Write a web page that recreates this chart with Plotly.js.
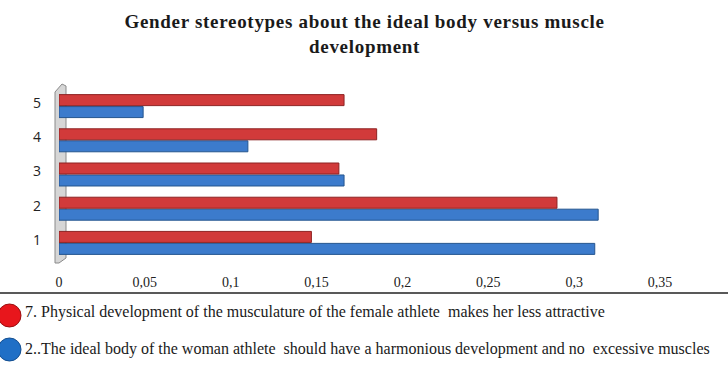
<!DOCTYPE html>
<html>
<head>
<meta charset="utf-8">
<script src="https://cdn.plot.ly/plotly-3.0.1.min.js"></script>
<style>
html,body{margin:0;padding:0;background:#fff;}
#chart{width:728px;height:376px;}
g.annotation[data-index="0"] text{letter-spacing:0.7px;}
</style>
</head>
<body>
<div id="chart"></div>
<script>
const categories = ["1", "2", "3", "4", "5"];
const seriesRedName = "7. Physical development of the musculature of the female athlete  makes her less attractive";
const seriesBlueName = "2..The ideal body of the woman athlete  should have a harmonious development and no  excessive muscles";
const redValues = [0.147, 0.290, 0.163, 0.185, 0.166];
const blueValues = [0.312, 0.314, 0.166, 0.110, 0.049];
const xTickVals = [0, 0.05, 0.1, 0.15, 0.2, 0.25, 0.3, 0.35];
const xTickText = ["0", "0,05", "0,1", "0,15", "0,2", "0,25", "0,3", "0,35"];
const chartTitle = "Gender stereotypes about the ideal body versus muscle<br>development";

const W = 728, H = 376;
const M = {l: 59, r: 68, t: 89, b: 116};
const pw = W - M.l - M.r, ph = H - M.t - M.b;
const px = x => (x - M.l) / pw;
const py = y => (H - M.b - y) / ph;

const serif = "Liberation Serif, Times New Roman, serif";

const traces = [
  {
    type: "bar", orientation: "h", name: seriesBlueName,
    y: categories, x: blueValues,
    marker: {color: "#3c7bcc", line: {color: "#24558f", width: 1}},
    showlegend: false, hoverinfo: "x+y"
  },
  {
    type: "bar", orientation: "h", name: seriesRedName,
    y: categories, x: redValues,
    marker: {color: "#d13a3a", line: {color: "#8e2323", width: 1}},
    showlegend: false, hoverinfo: "x+y"
  }
];

const layout = {
  width: W, height: H,
  margin: M,
  paper_bgcolor: "#fff", plot_bgcolor: "#fff",
  barmode: "group", bargap: 0.3, bargroupgap: 0.08,
  showlegend: false,
  xaxis: {
    range: [0, 0.35], tickvals: xTickVals, ticktext: xTickText,
    showgrid: false, zeroline: false, showline: false, ticks: "",
    ticklabelstandoff: 12,
    tickfont: {family: serif, size: 14, color: "#222"}
  },
  yaxis: {
    type: "category", range: [-0.5, 4.5],
    showgrid: false, zeroline: false, showline: false, ticks: "",
    ticklabelstandoff: 17, ticklabelshift: -3,
    tickfont: {family: "Open Sans, sans-serif", size: 14, color: "#222"}
  },
  shapes: [
    {type: "path", xref: "paper", yref: "paper",
     path: `M ${px(55)} ${py(263)} L ${px(55)} ${py(92)} L ${px(62)} ${py(84)} L ${px(66)} ${py(86)} L ${px(66)} ${py(258)} L ${px(59)} ${py(263)} Z`,
     fillcolor: "#d6d6d6", line: {color: "#8a8a8a", width: 1}, layer: "below"},
    {type: "line", xref: "paper", yref: "paper",
     x0: px(0), x1: px(728), y0: py(293), y1: py(293),
     line: {color: "#222", width: 1.5}},
    {type: "circle", xref: "paper", yref: "paper",
     x0: px(-2), x1: px(21), y0: py(327), y1: py(304),
     fillcolor: "#e8161c", line: {color: "#9a1010", width: 1}},
    {type: "circle", xref: "paper", yref: "paper",
     x0: px(-2), x1: px(21), y0: py(361), y1: py(338),
     fillcolor: "#1f6fc6", line: {color: "#154f90", width: 1}}
  ],
  annotations: [
    {xref: "paper", yref: "paper", x: px(364), y: py(9), xanchor: "center", yanchor: "top",
     text: "<b>" + chartTitle + "</b>", showarrow: false,
     font: {family: serif, size: 19, color: "#1a1a1a"}},
    {xref: "paper", yref: "paper", x: px(23), y: py(312), xanchor: "left", yanchor: "middle",
     text: seriesRedName, showarrow: false,
     font: {family: serif, size: 16, color: "#1a1a1a"}},
    {xref: "paper", yref: "paper", x: px(23), y: py(349), xanchor: "left", yanchor: "middle",
     text: seriesBlueName, showarrow: false,
     font: {family: serif, size: 16, color: "#1a1a1a"}}
  ]
};

Plotly.newPlot("chart", traces, layout, {displayModeBar: false, staticPlot: true});
</script>
</body>
</html>
